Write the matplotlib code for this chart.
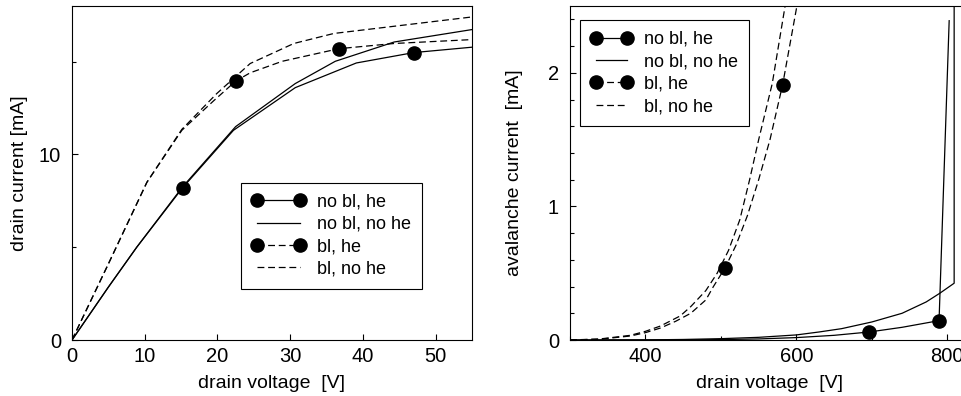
import matplotlib
matplotlib.use('Agg')
import matplotlib.pyplot as plt
from matplotlib.lines import Line2D
from matplotlib.ticker import MultipleLocator

plt.rcParams['font.family'] = ['Liberation Sans', 'DejaVu Sans']

# ---- left panel: drain current vs drain voltage ----
nobl_he_v = [0, 5, 8.9, 15.2, 22.2, 30.7, 39.1, 47.0, 55]
nobl_he_i = [0, 2.85, 5.0, 8.2, 11.3, 13.6, 14.93, 15.49, 15.78]
nobl_he_marks = [3, 7]

nobl_nohe_v = [0, 5, 8.9, 15.2, 22.5, 30.7, 36.2, 44.3, 55]
nobl_nohe_i = [0, 2.85, 5.0, 8.25, 11.5, 13.82, 15.02, 16.06, 16.73]

bl_he_v = [0, 5, 10.3, 15.1, 19.5, 22.5, 24.5, 28.9, 36.7, 44.3, 55]
bl_he_i = [0, 4.1, 8.5, 11.3, 12.9, 13.95, 14.4, 15.02, 15.7, 15.98, 16.19]
bl_he_marks = [5, 8]

bl_nohe_v = [0, 5, 10.3, 15.1, 19.9, 24.5, 30.5, 36.0, 55]
bl_nohe_i = [0, 4.1, 8.5, 11.35, 13.28, 14.9, 15.98, 16.52, 17.41]

# ---- right panel: avalanche current vs drain voltage ----
av_nobl_he_v = [300, 450, 500, 550, 600, 650, 696.5, 740, 789, 802.4]
av_nobl_he_i = [0, 0.001, 0.003, 0.008, 0.018, 0.035, 0.06, 0.095, 0.145, 2.39]
av_nobl_he_marks = [6, 8]

av_nobl_nohe_v = [300, 400, 450, 500, 550, 600, 630, 660, 700, 740, 772, 790, 809, 809]
av_nobl_nohe_i = [0, 0.001, 0.004, 0.01, 0.02, 0.038, 0.06, 0.085, 0.135, 0.2, 0.285, 0.35, 0.425, 2.6]

av_bl_he_v = [300, 340, 380, 400, 420, 440, 460, 480, 490, 505.3, 520, 535, 550, 565, 581.7, 600, 612]
av_bl_he_i = [0, 0.006, 0.03, 0.055, 0.09, 0.14, 0.2, 0.3, 0.4, 0.538, 0.71, 0.93, 1.2, 1.5, 1.91, 2.48, 2.9]
av_bl_he_marks = [9, 14]

av_bl_nohe_v = [300, 340, 380, 400, 420, 446, 460, 480, 495, 510, 525, 538, 550, 568, 585, 595]
av_bl_nohe_i = [0, 0.008, 0.035, 0.065, 0.105, 0.18, 0.25, 0.37, 0.5, 0.67, 0.9, 1.2, 1.5, 1.92, 2.5, 2.85]

labels = ['no bl, he', 'no bl, no he', 'bl, he', 'bl, no he']

LW = 0.9
DASH = (5.5, 3)
MS = 9.5


def draw(ax, v1, i1, m1, v2, i2, v3, i3, m3, v4, i4):
    ax.plot(v1, i1, color='black', lw=LW, marker='o', ms=MS, markevery=m1)
    ax.plot(v2, i2, color='black', lw=LW)
    ax.plot(v3, i3, color='black', lw=LW, dashes=DASH, marker='o', ms=MS, markevery=m3)
    ax.plot(v4, i4, color='black', lw=LW, dashes=DASH)


def legend_handles():
    return [
        Line2D([], [], color='black', lw=LW, marker='o', ms=MS),
        Line2D([], [], color='black', lw=LW),
        Line2D([], [], color='black', lw=LW, dashes=DASH, marker='o', ms=MS),
        Line2D([], [], color='black', lw=LW, dashes=DASH),
    ]


def style(ax):
    for s in ax.spines.values():
        s.set_linewidth(0.8)
    ax.tick_params(which='both', direction='in', top=False, right=False, labelsize=14.5)
    ax.tick_params(which='major', length=4.5, width=0.8)
    ax.tick_params(which='minor', length=3, width=0.8)
    ax.tick_params(axis='x', pad=5)
    ax.tick_params(axis='y', pad=8)


def add_legend(ax, anchor, hlen):
    leg = ax.legend(legend_handles(), labels, loc='upper left', bbox_to_anchor=anchor,
                    borderaxespad=0, numpoints=2, fontsize=13, handlelength=hlen,
                    handletextpad=0.64, borderpad=0.6, labelspacing=0.3,
                    fancybox=False, framealpha=1, edgecolor='black')
    leg.get_frame().set_linewidth(0.8)


fig = plt.figure(figsize=(9.62, 3.96), dpi=100)

ax1 = fig.add_axes([72 / 962, 56 / 396, 400 / 962, 334 / 396])
draw(ax1, nobl_he_v, nobl_he_i, nobl_he_marks, nobl_nohe_v, nobl_nohe_i,
     bl_he_v, bl_he_i, bl_he_marks, bl_nohe_v, bl_nohe_i)
ax1.set_xlim(0, 55)
ax1.set_ylim(0, 18)
ax1.xaxis.set_major_locator(MultipleLocator(10))
ax1.yaxis.set_major_locator(MultipleLocator(10))
ax1.yaxis.set_minor_locator(MultipleLocator(5))
style(ax1)
ax1.set_xlabel('drain voltage  [V]', fontsize=14, va='center')
ax1.set_ylabel('drain current [mA]', fontsize=14, va='center')
ax1.xaxis.set_label_coords(0.5, -0.129)
ax1.yaxis.set_label_coords(-0.13, 0.5)
add_legend(ax1, (0.423, 0.471), 2.95)

ax2 = fig.add_axes([570 / 962, 56 / 396, 400 / 962, 334 / 396])
draw(ax2, av_nobl_he_v, av_nobl_he_i, av_nobl_he_marks, av_nobl_nohe_v, av_nobl_nohe_i,
     av_bl_he_v, av_bl_he_i, av_bl_he_marks, av_bl_nohe_v, av_bl_nohe_i)
ax2.set_xlim(300, 830)
ax2.set_ylim(0, 2.5)
ax2.xaxis.set_major_locator(MultipleLocator(200))
ax2.xaxis.set_minor_locator(MultipleLocator(100))
ax2.yaxis.set_major_locator(MultipleLocator(1))
ax2.yaxis.set_minor_locator(MultipleLocator(0.2))
style(ax2)
ax2.set_xlabel('drain voltage  [V]', fontsize=14, va='center')
ax2.set_ylabel('avalanche current  [mA]', fontsize=14, va='center')
ax2.xaxis.set_label_coords(0.5, -0.129)
ax2.yaxis.set_label_coords(-0.1375, 0.5)
add_legend(ax2, (0.025, 0.958), 2.33)

fig.savefig('out.png', dpi=100)
